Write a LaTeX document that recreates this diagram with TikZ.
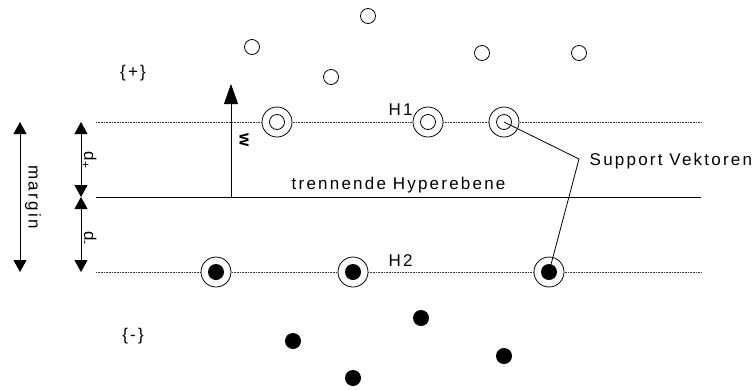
\documentclass[tikz,border=0pt]{standalone}
\usepackage{fontspec}
\setmainfont{Liberation Sans}[LetterSpace=13]
\usetikzlibrary{arrows.meta,positioning}

\begin{document}
\begin{tikzpicture}[x=1pt,y=-1pt,line width=0.8pt,
	font=\fontsize{17}{20}\selectfont,
	pluspt/.style={circle,draw,minimum size=15pt,inner sep=0pt},
	minuspt/.style={circle,fill,minimum size=16pt,inner sep=0pt},
	svplus/.style={circle,draw,fill=white,minimum size=30pt,inner sep=0pt,
		path picture={\draw (path picture bounding box.center) circle (7.5);}},
	svminus/.style={circle,draw,fill=white,minimum size=30pt,inner sep=0pt,
		path picture={\fill[black] (path picture bounding box.center) circle (8);}},
	hplane/.style={line width=0.6pt,dash pattern=on 1pt off 0.6pt,black!80},
	dimarrow/.style={{Triangle[length=12pt,width=13pt]}-{Triangle[length=12pt,width=13pt]}}]
	\useasboundingbox (0,0) rectangle (754,389);
		\coordinate (h1l) at (96,122); \coordinate (h1r) at (701,122);
		\coordinate (hl) at (96,197); \coordinate (hr) at (701,197);
		\coordinate (h2l) at (96,272); \coordinate (h2r) at (701,272);
		\draw[hplane] (h1l) -- (h1r);
		\draw[hplane] (h2l) -- (h2r);
		\draw (hl) -- (hr);
		\coordinate (wfoot) at (231,197); \coordinate (wtip) at (231,84);
		\draw[-{Triangle[length=20pt,width=14pt]}] (wfoot) -- (wtip);
		\node[font=\fontsize{17}{20}\selectfont\bfseries,rotate=-90] (w) at (244,140) {w};
		\coordinate (dpa) at (81,122); \coordinate (dpb) at (81,197);
		\coordinate (dma) at (81,197); \coordinate (dmb) at (81,272);
		\draw[dimarrow] (dpa) -- (dpb);
		\draw[dimarrow] (dma) -- (dmb);
		\node[rotate=-90] (dp) at (89,160) {d\textsubscript{+}};
		\node[rotate=-90] (dm) at (89,238) {d\textsubscript{-}};
		\coordinate (ma) at (20,122); \coordinate (mb) at (20,272);
		\draw[dimarrow] (ma) -- (mb);
		\node[rotate=-90] (margin) at (33,197) {margin};
		\node (plus) at (133,73) {\{+\}};
		\node (minus) at (133,336) {\{-\}};
		\node[anchor=base west] (H1) at (385,115) {H1};
		\node[anchor=base west] (H2) at (385,266) {H2};
		\node[anchor=base west] (trenn) at (288,189) {trennende Hyperebene};
		\node[anchor=base west] (sv) at (586,165) {Support Vektoren};
		\node[pluspt] (p1) at (368,16) {};
		\node[pluspt] (p2) at (252,47) {};
		\node[pluspt] (p3) at (482,53) {};
		\node[pluspt] (p4) at (579,53) {};
		\node[pluspt] (p5) at (331,77) {};
		\node[svplus] (s1) at (277,122) {};
		\node[svplus] (s2) at (428,122) {};
		\node[svplus] (s3) at (504,122) {};
		\node[svminus] (s4) at (216,272) {};
		\node[svminus] (s5) at (353,272) {};
		\node[svminus] (s6) at (549,272) {};
		\node[minuspt] (m1) at (293,341) {};
		\node[minuspt] (m2) at (421,318) {};
		\node[minuspt] (m3) at (504,356) {};
		\node[minuspt] (m4) at (353,378) {};
		\coordinate (knick) at (579,159);
		\draw (s3.center) -- (knick) -- (s6.center);
\end{tikzpicture}
\end{document}
